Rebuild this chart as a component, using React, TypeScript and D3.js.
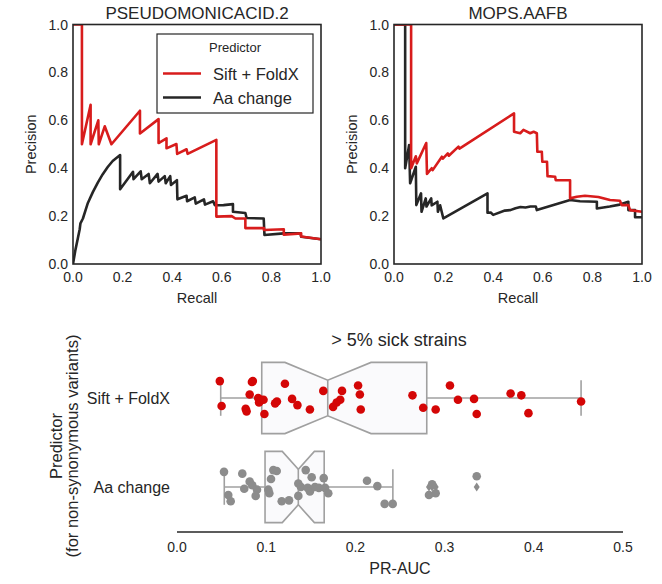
import React from 'react';
import * as d3 from 'd3';

// ---------- Top panels: precision-recall curves ----------
const tlSiftRecall = [0, 0.036, 0.036, 0.071, 0.071, 0.102, 0.104, 0.128, 0.155, 0.27, 0.27, 0.345, 0.345, 0.377, 0.377, 0.417, 0.42, 0.458, 0.462, 0.578, 0.578, 0.64, 0.655, 0.695, 0.695, 0.77, 0.77, 0.85, 0.85, 0.92, 0.92, 1.0];
const tlSiftPrecision = [1.0, 1.0, 0.5, 0.665, 0.5, 0.6, 0.5, 0.575, 0.5, 0.64, 0.545, 0.605, 0.505, 0.525, 0.483, 0.501, 0.46, 0.479, 0.46, 0.518, 0.198, 0.2, 0.19, 0.19, 0.15, 0.15, 0.142, 0.145, 0.122, 0.128, 0.115, 0.103];

const tlAaRecall = [0, 0.01, 0.02, 0.027, 0.03, 0.04, 0.06, 0.08, 0.1, 0.12, 0.14, 0.16, 0.19, 0.19, 0.242, 0.244, 0.273, 0.277, 0.305, 0.31, 0.341, 0.345, 0.37, 0.374, 0.392, 0.395, 0.419, 0.421, 0.458, 0.46, 0.491, 0.495, 0.528, 0.532, 0.565, 0.572, 0.607, 0.645, 0.645, 0.695, 0.7, 0.769, 0.772, 0.85, 0.917, 0.92, 1.0];
const tlAaPrecision = [0, 0.06, 0.11, 0.145, 0.17, 0.19, 0.255, 0.3, 0.34, 0.375, 0.405, 0.43, 0.455, 0.312, 0.385, 0.354, 0.387, 0.354, 0.376, 0.337, 0.376, 0.344, 0.367, 0.337, 0.367, 0.33, 0.35, 0.27, 0.285, 0.262, 0.278, 0.252, 0.27, 0.248, 0.262, 0.245, 0.246, 0.25, 0.218, 0.213, 0.192, 0.19, 0.121, 0.128, 0.128, 0.114, 0.103];

const trSiftRecall = [0, 0.069, 0.069, 0.088, 0.092, 0.13, 0.133, 0.152, 0.156, 0.193, 0.197, 0.217, 0.221, 0.26, 0.264, 0.484, 0.484, 0.509, 0.522, 0.549, 0.563, 0.576, 0.578, 0.596, 0.598, 0.617, 0.619, 0.65, 0.652, 0.71, 0.71, 0.737, 0.77, 0.824, 0.871, 0.911, 0.918, 0.945, 0.952, 1.0];
const trSiftPrecision = [1.0, 1.0, 0.4, 0.45, 0.42, 0.505, 0.376, 0.4, 0.392, 0.448, 0.44, 0.462, 0.452, 0.49, 0.482, 0.629, 0.552, 0.546, 0.56, 0.546, 0.552, 0.546, 0.469, 0.469, 0.427, 0.427, 0.367, 0.364, 0.35, 0.35, 0.274, 0.281, 0.285, 0.28, 0.267, 0.264, 0.246, 0.246, 0.225, 0.218];

const trAaRecall = [0, 0.045, 0.045, 0.061, 0.065, 0.088, 0.09, 0.109, 0.111, 0.128, 0.131, 0.15, 0.152, 0.175, 0.177, 0.186, 0.199, 0.377, 0.377, 0.39, 0.4, 0.447, 0.469, 0.49, 0.51, 0.53, 0.55, 0.572, 0.576, 0.71, 0.75, 0.818, 0.818, 0.87, 0.91, 0.945, 0.945, 0.972, 0.972, 1.0];
const trAaPrecision = [1.0, 1.0, 0.4, 0.497, 0.337, 0.406, 0.246, 0.295, 0.218, 0.274, 0.24, 0.274, 0.245, 0.26, 0.218, 0.245, 0.19, 0.295, 0.214, 0.215, 0.205, 0.223, 0.225, 0.233, 0.238, 0.236, 0.24, 0.24, 0.225, 0.267, 0.262, 0.26, 0.232, 0.24, 0.248, 0.26, 0.225, 0.225, 0.195, 0.195];

const prTicks = [0, 0.2, 0.4, 0.6, 0.8, 1.0];
const panelTitles = ['PSEUDOMONICACID.2', 'MOPS.AAFB'];
const seriesNames = ['Sift + FoldX', 'Aa change'];

// ---------- Bottom panel: PR-AUC box + strip ----------
const categories = ['Sift + FoldX', 'Aa change'];
const siftAuc = [0.048, 0.05, 0.084, 0.085, 0.0815, 0.077, 0.078, 0.091, 0.092, 0.094, 0.097, 0.098, 0.121, 0.112, 0.11, 0.129, 0.135, 0.149, 0.164, 0.185, 0.183, 0.179, 0.175, 0.203, 0.205, 0.206, 0.264, 0.276, 0.29, 0.306, 0.315, 0.333, 0.336, 0.374, 0.386, 0.394, 0.453];
const siftJitter = [-0.19, 0.09, -0.18, -0.19, -0.04, 0.12, 0.15, 0.0, 0.05, 0.02, 0.02, 0.18, -0.16, 0.04, 0.06, 0.01, 0.08, 0.13, -0.08, -0.08, 0.02, 0.05, 0.1, -0.14, -0.04, 0.13, -0.03, 0.11, 0.13, -0.14, 0.02, 0.01, 0.18, -0.05, -0.03, 0.17, 0.04];
const aaAuc = [0.0527, 0.0575, 0.0602, 0.0732, 0.0754, 0.0815, 0.0844, 0.0897, 0.0882, 0.1024, 0.1035, 0.108, 0.1118, 0.1054, 0.1174, 0.1256, 0.136, 0.136, 0.139, 0.1443, 0.151, 0.1465, 0.149, 0.1547, 0.159, 0.1645, 0.166, 0.1696, 0.213, 0.2246, 0.2328, 0.2418, 0.2825, 0.29, 0.286, 0.336];
const aaJitter = [-0.17, 0.09, 0.16, -0.15, 0.02, -0.06, -0.02, 0.03, 0.1, 0.03, 0.07, -0.19, -0.18, -0.09, 0.16, 0.15, 0.1, -0.04, 0.0, -0.19, -0.11, 0.01, 0.05, 0.0, 0.01, -0.1, 0.01, 0.07, -0.07, -0.01, 0.19, 0.19, 0.09, 0.07, -0.03, -0.12];
const boxQ1 = [0.095, 0.0987];
const boxMedian = [0.169, 0.136];
const boxQ3 = [0.28, 0.165];
const boxNotchLo = [0.121, 0.118];
const boxNotchHi = [0.2175, 0.154];
const whiskerLo = [0.049, 0.053];
const whiskerHi = [0.453, 0.242];
const aaFliers = [0.2825, 0.286, 0.29, 0.336];
const aucTicks = [0, 0.1, 0.2, 0.3, 0.4, 0.5];

const FONT = '"Liberation Sans", Arial, sans-serif';
const TEXT = '#262626';
const RED = '#d81c1c';
const DARK = '#262626';

type PRProps = {
  left: number;
  title: string;
  siftR: number[]; siftP: number[];
  aaR: number[]; aaP: number[];
  legend: boolean;
  id: string;
};

function PRPanel({ left, title, siftR, siftP, aaR, aaP, legend, id }: PRProps) {
  const w = 248;
  const top = 24.5;
  const bottom = 264;
  const x = d3.scaleLinear().domain([0, 1]).range([left, left + w]);
  const y = d3.scaleLinear().domain([0, 1]).range([bottom, top]);
  const line = d3.line<[number, number]>().x(d => x(d[0])).y(d => y(d[1]));
  const siftPts = siftR.map((r, i) => [r, siftP[i]] as [number, number]);
  const aaPts = aaR.map((r, i) => [r, aaP[i]] as [number, number]);
  return (
    <g>
      <defs>
        <clipPath id={id}>
          <rect x={left} y={top} width={w} height={bottom - top} />
        </clipPath>
      </defs>
      <text x={left + w / 2} y={19} textAnchor="middle" fontSize={17} fill={TEXT} fontFamily={FONT}>{title}</text>
      {prTicks.map(t => (
        <text key={'y' + t} x={left - 5} y={y(t) + 5} textAnchor="end" fontSize={14} fill={TEXT} fontFamily={FONT}>{t.toFixed(1)}</text>
      ))}
      {prTicks.map(t => (
        <text key={'x' + t} x={x(t)} y={bottom + 18} textAnchor="middle" fontSize={14} fill={TEXT} fontFamily={FONT}>{t.toFixed(1)}</text>
      ))}
      <text x={left + w / 2} y={bottom + 39} textAnchor="middle" fontSize={14.5} fill={TEXT} fontFamily={FONT}>Recall</text>
      <text transform={`translate(${left - 37},${(top + bottom) / 2}) rotate(-90)`} textAnchor="middle" fontSize={14.5} fill={TEXT} fontFamily={FONT}>Precision</text>
      <g clipPath={`url(#${id})`}>
        <path d={line(aaPts) || ''} fill="none" stroke={DARK} strokeWidth={2.6} strokeLinejoin="round" />
        <path d={line(siftPts) || ''} fill="none" stroke={RED} strokeWidth={2.6} strokeLinejoin="round" />
      </g>
      <rect x={left} y={top} width={w} height={bottom - top} fill="none" stroke={DARK} strokeWidth={1.6} />
      {legend && (
        <g>
          <rect x={157} y={34} width={156} height={79} fill="#fff" stroke={DARK} strokeWidth={1.2} />
          <text x={235} y={52} textAnchor="middle" fontSize={13} fill={TEXT} fontFamily={FONT}>Predictor</text>
          <line x1={163} x2={201} y1={73.5} y2={73.5} stroke={RED} strokeWidth={2.6} />
          <text x={213} y={80} fontSize={16.5} fill={TEXT} fontFamily={FONT}>{seriesNames[0]}</text>
          <line x1={163} x2={201} y1={97.5} y2={97.5} stroke={DARK} strokeWidth={2.6} />
          <text x={213} y={104} fontSize={16.5} fill={TEXT} fontFamily={FONT}>{seriesNames[1]}</text>
        </g>
      )}
    </g>
  );
}

function BoxPanel() {
  const x = d3.scaleLinear().domain([0, 0.5]).range([177, 623]);
  const yb = d3.scaleBand().domain(categories).range([353.5, 531.5]);
  const bw = yb.bandwidth();
  const h = bw * 0.8 / 2;
  const values = [siftAuc, aaAuc];
  const jitters = [siftJitter, aaJitter];
  const dotColors = ['#d40606', '#8c8c8c'];
  const boxStroke = '#a0a0a0';
  return (
    <g>
      <text x={399} y={346} textAnchor="middle" fontSize={18} fill={TEXT} fontFamily={FONT}>&gt; 5% sick strains</text>
      {categories.map((c, i) => {
        const cy = (yb(c) || 0) + bw / 2;
        const q1 = x(boxQ1[i]), q3 = x(boxQ3[i]), md = x(boxMedian[i]);
        const nl = x(boxNotchLo[i]), nh = x(boxNotchHi[i]);
        const path = `M${q1},${cy - h}L${nl},${cy - h}L${md},${cy - h / 2}L${nh},${cy - h}L${q3},${cy - h}L${q3},${cy + h}L${nh},${cy + h}L${md},${cy + h / 2}L${nl},${cy + h}L${q1},${cy + h}Z`;
        return (
          <g key={c}>
            <text x={170} y={cy + 5.5} textAnchor="end" fontSize={16} fill={TEXT} fontFamily={FONT}>{c}</text>
            <line x1={x(whiskerLo[i])} x2={q1} y1={cy} y2={cy} stroke={boxStroke} strokeWidth={1.6} />
            <line x1={q3} x2={x(whiskerHi[i])} y1={cy} y2={cy} stroke={boxStroke} strokeWidth={1.6} />
            <line x1={x(whiskerLo[i])} x2={x(whiskerLo[i])} y1={cy - h / 2} y2={cy + h / 2} stroke={boxStroke} strokeWidth={1.6} />
            <line x1={x(whiskerHi[i])} x2={x(whiskerHi[i])} y1={cy - h / 2} y2={cy + h / 2} stroke={boxStroke} strokeWidth={1.6} />
            <path d={path} fill="#fafafc" stroke={boxStroke} strokeWidth={1.6} />
            <line x1={md} x2={md} y1={cy - h / 2} y2={cy + h / 2} stroke={boxStroke} strokeWidth={1.6} />
            {i === 1 && aaFliers.map((f, k) => (
              <path key={'f' + k} d={`M${x(f)},${cy - 4.5}L${x(f) + 3},${cy}L${x(f)},${cy + 4.5}L${x(f) - 3},${cy}Z`} fill="#8c8c8c" />
            ))}
            {values[i].map((v, k) => (
              <circle key={k} cx={x(v)} cy={cy + jitters[i][k] * bw} r={4.3} fill={dotColors[i]} />
            ))}
          </g>
        );
      })}
      <line x1={177} x2={623} y1={532} y2={532} stroke={DARK} strokeWidth={1.6} />
      {aucTicks.map(t => (
        <text key={t} x={x(t)} y={552} textAnchor="middle" fontSize={14} fill={TEXT} fontFamily={FONT}>{t.toFixed(1)}</text>
      ))}
      <text x={400} y={574} textAnchor="middle" fontSize={16} fill={TEXT} fontFamily={FONT}>PR-AUC</text>
      <text transform={`translate(62,446) rotate(-90)`} textAnchor="middle" fontSize={16.5} fill={TEXT} fontFamily={FONT}>Predictor</text>
      <text transform={`translate(78,446) rotate(-90)`} textAnchor="middle" fontSize={16.5} fill={TEXT} fontFamily={FONT}>(for non-synonymous variants)</text>
    </g>
  );
}

export default function App() {
  return (
    <svg width={662} height={584} style={{ position: 'absolute', left: 0, top: 0, background: '#fff' }}>
      <rect width={662} height={584} fill="#fff" />
      <PRPanel left={73} title={panelTitles[0]} siftR={tlSiftRecall} siftP={tlSiftPrecision} aaR={tlAaRecall} aaP={tlAaPrecision} legend={true} id="clipTL" />
      <PRPanel left={394} title={panelTitles[1]} siftR={trSiftRecall} siftP={trSiftPrecision} aaR={trAaRecall} aaP={trAaPrecision} legend={false} id="clipTR" />
      <BoxPanel />
    </svg>
  );
}
